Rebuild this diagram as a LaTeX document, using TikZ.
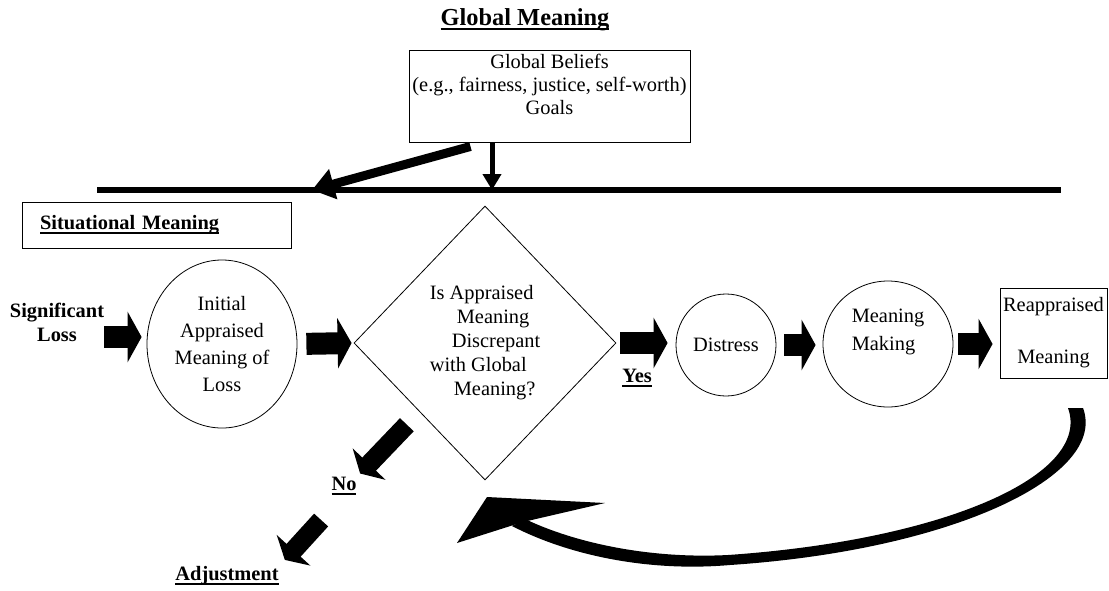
\documentclass[tikz,border=0pt]{standalone}
\usepackage{fontspec}
\setmainfont{Liberation Serif}
\usetikzlibrary{arrows.meta,shapes.geometric}
\newcommand{\ulbar}[1]{\setbox0\hbox{#1}\leavevmode\rlap{\vrule width\wd0 height -2pt depth 4pt}\box0}
\tikzset{
  > = {Triangle},
  every node/.style = {font=\fontsize{20.4}{24}\selectfont, inner sep=0pt},
  frame box/.style = {draw, line width=0.9pt, align=center},
  bubble/.style = {draw, ellipse, line width=0.8pt, align=center},
  heading/.style = {font=\fontsize{20.4}{24}\selectfont\bfseries},
  block arrow/.style = {line width=22pt, -{Triangle[length=14pt,width=50pt]}},
  slim block arrow/.style = {line width=19pt, -{Triangle[length=13pt,width=45pt]}},
}

\begin{document}
\begin{tikzpicture}[x=1pt, y=-1pt]
  \useasboundingbox (0,0) rectangle (1109,590);

  %% define coordinates
  \coordinate (bar_l) at (97,190);
  \coordinate (bar_r) at (1061,190);
  \coordinate (bar_hit) at (312,190);
  \coordinate (loop_start) at (1076,408);
  \coordinate (loop_end) at (523,522);
  \coordinate (loop_tip) at (457,543);

  % draw global meaning
  \node[heading, font=\fontsize{24.4}{28}\selectfont\bfseries] (title) at (525,20) {\ulbar{Global Meaning}};
  \node[frame box, minimum width=281pt, minimum height=92pt, font=\fontsize{20.4}{23}\selectfont] (beliefs) at (549.5,96)
    {Global Beliefs\\(e.g., fairness, justice, self-worth)\\Goals\\\mbox{}};

  % draw the divider and the arrows onto it
  \draw[line width=6pt] (bar_l) -- (bar_r);
  \draw[line width=5pt, -{Triangle[length=16pt,width=18pt]}] ([xshift=-57.5pt]beliefs.south) -- ([xshift=-57.5pt]beliefs.south |- bar_l);
  \draw[line width=9pt, -{Triangle[length=22pt,width=30pt]}] ([shift={(-79pt,-4pt)}]beliefs.south) -- (bar_hit);

  % draw situational meaning
  \node[frame box, heading, minimum width=269pt, minimum height=46pt, text width=233pt, align=left] (situ) at (156.5,225) {\ulbar{Situational Meaning}};

  % draw the main chain
  \node[heading, align=center] (loss) at (57,322) {Significant\\Loss};
  \node[bubble, minimum width=150pt, minimum height=168pt, font=\fontsize{20.4}{27}\selectfont] (initial) at (222,344)
    {Initial\\Appraised\\Meaning of\\Loss};
  \node[draw, diamond, line width=0.8pt, minimum width=262pt, minimum height=274pt, align=left] (check) at (485,343)
    {Is Appraised\\\hspace*{27pt}Meaning\\\hspace*{22pt}Discrepant\\with Global\\\hspace*{24pt}Meaning?};
  \node[bubble, minimum width=100pt, minimum height=102pt] (distress) at (726,345) {Distress};
  \node[bubble, minimum width=130pt, minimum height=126pt, align=left, font=\fontsize{20.4}{28}\selectfont] (making) at (888,344)
    {Meaning\\Making\\\mbox{}};
  \node[frame box, minimum width=107pt, minimum height=90pt, font=\fontsize{20.4}{25}\selectfont] (reappraised) at (1053.5,333)
    {Reappraised\\[27pt]Meaning};

  % draw the answers
  \node[heading] (yes) at (637,378) {\ulbar{Yes}};
  \node[heading] (no) at (344,486) {\ulbar{No}};
  \node[heading] (adjust) at (227,576) {\ulbar{Adjustment}};

  % draw block arrows
  \draw[block arrow, shorten >=5pt] ([yshift=-15pt]loss.east) -- ([yshift=7pt]initial.west);
  \draw[block arrow, shorten <=9pt, shorten >=2pt] (initial.east) -- (check.west);
  \draw[block arrow, shorten <=4pt, shorten >=8pt] (check.east) -- (check.east -| distress.west);
  \draw[block arrow, shorten <=8pt, shorten >=7pt] (distress.east) -- (distress.east -| making.west);
  \draw[block arrow, shorten <=5pt, shorten >=7pt] (making.east) -- (making.east -| reappraised.west);
  \draw[slim block arrow, shorten <=18pt, shorten >=5pt] (check.south west) -- (no.north east);
  \draw[slim block arrow, shorten <=34pt, shorten >=9pt] (no.south) -- (adjust.north east);

  % draw the feedback loop
  \fill ([xshift=7pt]loop_start) .. controls (1108,475) and (955,550) .. (730,565)
    .. controls (650,572) and (570,556) .. ([shift={(-11pt,-4pt)}]loop_end)
    -- ([shift={(2pt,3pt)}]loop_end)
    .. controls (575,543) and (650,559) .. (728,555)
    .. controls (945,540) and (1092,475) .. ([xshift=-8pt]loop_start) -- cycle;
  \fill (loop_tip) -- (487,497) -- (605,503) -- (loop_end) -- cycle;
\end{tikzpicture}
\end{document}
